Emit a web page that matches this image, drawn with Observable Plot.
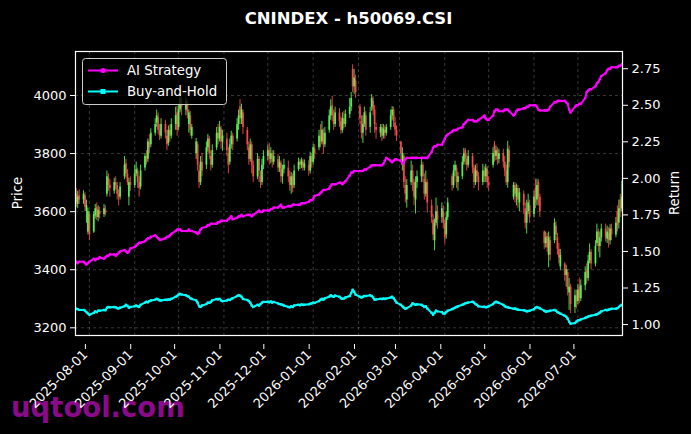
<!DOCTYPE html>
<html><head><meta charset="utf-8">
<script src="https://cdn.jsdelivr.net/npm/d3@7"></script>
<script src="https://cdn.jsdelivr.net/npm/@observablehq/plot@0.6"></script>
<style>
html,body{margin:0;padding:0;background:#000;}
#wrap{position:relative;width:691px;height:434px;overflow:hidden;font-family:"DejaVu Sans",sans-serif;background:#000;}
#wrap > svg{position:absolute;left:0;top:0;}
</style></head><body><div id="wrap"></div>
<script>
// ---- data (one trading week per line) ----
const openP = [
3660,3625,3655,
3640,3655,3600,3530,3590, 3530,3585,3615,3580,3600, 3590,3605,3660,3715,3690, 3670,3700,3690,3660,3650,
3720,3765,3730,3650,3700, 3690,3730,3740,3700,3685, 3750,3790,3780,3840,3830, 3870,3905,3925,3880,3860,
3900,3860,3835,3880,3860, 3900,3940,3890,3950,3985, 3950,3975,3900,3930,3860, 3800,3830,3740,3700,3770,
3760,3820,3850,3790,3760, 3820,3870,3850,3885,3840, 3850,3800,3770,3830,3860, 3850,3900,3960,3920,3940,
3880,3820,3780,3830,3760, 3720,3780,3720,3700,3760, 3790,3810,3780,3800,3770, 3780,3750,3765,3720,3745,
3750,3720,3690,3720,3690, 3745,3770,3760,3770,3750, 3760,3740,3790,3770,3815, 3820,3860,3840,3870,3830,
3880,3930,3965,3930,3900, 3940,3910,3880,3920,3900, 3935,3960,4090,4030,4050, 3960,3910,3870,3900,3930,
3890,3960,3980,3950,3890, 3870,3890,3860,3880,3870, 3890,3930,3950,3905,3880, 3840,3760,3790,3690,3640,
3700,3740,3700,3640,3700, 3720,3760,3710,3660,3700, 3620,3570,3500,3560,3600, 3580,3600,3560,3520,3580,
3720,3690,3740,3750,3700, 3720,3770,3810,3780,3760, 3790,3750,3700,3740,3720, 3700,3740,3720,3745,3700,
3760,3830,3790,3810,3780, 3800,3770,3740,3700,3810, 3650,3690,3650,3680,3630, 3660,3610,3560,3600,3620,
3590,3680,3640,3700,3650, 3530,3490,3515,3450,3500, 3500,3550,3510,3470,3410, 3420,3380,3390,3320,3340,
3270,3310,3290,3340,3300, 3345,3395,3370,3430,3460, 3420,3490,3530,3480,3510, 3540,3505,3525,3500,3540,
3520,3600,3560,3640,3610
];
const highP = [
3680,3670,3675,
3672,3665,3640,3612,3600, 3600,3625,3630,3620,3615, 3625,3620,3740,3730,3710, 3715,3720,3700,3675,3700,
3790,3780,3745,3715,3720, 3760,3770,3750,3720,3760, 3800,3810,3850,3865,3885, 3920,3950,3940,3900,3920,
3915,3880,3895,3900,3920, 3960,3962,3970,4005,3995, 3995,3985,3950,3945,3900, 3852,3840,3760,3790,3800,
3840,3866,3860,3810,3830, 3890,3900,3911,3895,3880, 3870,3820,3850,3877,3870, 3920,3950,3986,3970,3950,
3890,3840,3850,3840,3775, 3800,3790,3740,3780,3810, 3830,3835,3820,3810,3810, 3797,3790,3775,3760,3780,
3774,3740,3735,3730,3760, 3784,3780,3784,3780,3778, 3775,3805,3800,3832,3830, 3880,3900,3911,3885,3890,
3950,3985,3997,3950,3960, 3955,3925,3940,3945,3950, 3990,4010,4106,4090,4070, 3969,3930,3930,3960,3945,
3960,4003,3995,3965,3905, 3900,3900,3900,3895,3900, 3950,3962,3960,3925,3895, 3842,3820,3800,3720,3710,
3774,3760,3710,3720,3740, 3784,3770,3730,3740,3710, 3640,3590,3575,3647,3620, 3630,3620,3570,3600,3647,
3730,3760,3774,3760,3735, 3790,3818,3818,3795,3810, 3800,3760,3760,3765,3735, 3763,3755,3763,3755,3720,
3820,3842,3825,3820,3815, 3815,3790,3760,3842,3825, 3700,3700,3695,3690,3680, 3671,3630,3640,3660,3640,
3670,3712,3712,3710,3660, 3534,3530,3525,3530,3515, 3575,3565,3525,3490,3470, 3424,3415,3400,3370,3350,
3330,3330,3350,3372,3365, 3410,3420,3450,3489,3470, 3500,3557,3540,3530,3557, 3557,3550,3545,3555,3557,
3580,3620,3640,3660,3705
];
const lowP = [
3615,3610,3625,
3625,3600,3560,3520,3500, 3525,3575,3570,3565,3575, 3580,3585,3650,3670,3650, 3660,3675,3640,3620,3640,
3710,3715,3690,3620,3670, 3680,3720,3680,3650,3675, 3740,3760,3770,3800,3820, 3860,3890,3865,3845,3850,
3850,3810,3825,3840,3850, 3880,3860,3880,3940,3930, 3930,3920,3870,3860,3850, 3780,3740,3680,3690,3720,
3745,3805,3780,3740,3750, 3810,3830,3840,3815,3808, 3790,3730,3760,3815,3810, 3840,3880,3900,3900,3866,
3810,3760,3770,3730,3700, 3710,3700,3680,3690,3745, 3775,3760,3765,3750,3760, 3735,3735,3700,3695,3730,
3700,3670,3660,3665,3680, 3739,3745,3748,3740,3740, 3722,3730,3750,3760,3780, 3810,3820,3830,3797,3820,
3870,3915,3910,3880,3890, 3890,3866,3870,3885,3890, 3921,3945,4010,4003,3990, 3900,3850,3835,3890,3860,
3870,3945,3930,3870,3849, 3855,3842,3850,3850,3860, 3880,3915,3890,3860,3842, 3770,3740,3680,3630,3612,
3690,3670,3620,3592,3680, 3700,3700,3640,3650,3595, 3560,3500,3465,3550,3540, 3560,3540,3489,3505,3570,
3671,3680,3720,3680,3671, 3710,3760,3760,3740,3750, 3730,3680,3690,3700,3671, 3690,3700,3700,3680,3671,
3750,3770,3775,3760,3765, 3750,3720,3690,3681,3750, 3640,3630,3620,3612,3600, 3590,3540,3523,3590,3560,
3578,3610,3620,3620,3580, 3470,3475,3460,3407,3430, 3490,3500,3450,3420,3396, 3360,3340,3310,3260,3249,
3249,3265,3280,3283,3290, 3328,3350,3360,3420,3400, 3410,3480,3460,3441,3495, 3495,3490,3475,3485,3500,
3510,3530,3540,3580,3600
];
const closeP = [
3630,3650,3640,
3660,3615,3620,3600,3520, 3590,3610,3580,3605,3590, 3610,3595,3720,3690,3680, 3700,3690,3660,3650,3685,
3760,3730,3700,3700,3690, 3730,3745,3700,3680,3740, 3790,3770,3840,3820,3870, 3900,3930,3880,3860,3900,
3870,3830,3880,3860,3900, 3930,3880,3950,3990,3960, 3980,3940,3940,3880,3890, 3840,3760,3700,3770,3740,
3820,3850,3800,3760,3810, 3870,3850,3890,3840,3860, 3810,3760,3830,3860,3830, 3900,3930,3920,3950,3890,
3830,3780,3830,3760,3720, 3780,3740,3700,3760,3790, 3810,3780,3800,3770,3790, 3750,3770,3720,3745,3760,
3720,3690,3720,3680,3740, 3770,3760,3775,3750,3765, 3740,3790,3770,3820,3800, 3860,3840,3880,3830,3870,
3930,3960,3930,3900,3940, 3910,3880,3920,3900,3935, 3960,3990,4030,4060,4010, 3920,3870,3900,3940,3880,
3940,3990,3950,3900,3880, 3890,3860,3885,3870,3890, 3930,3950,3910,3880,3860, 3800,3800,3700,3660,3690,
3740,3700,3650,3700,3720, 3760,3720,3660,3700,3630, 3580,3520,3560,3600,3570, 3610,3560,3510,3580,3630,
3690,3740,3760,3700,3720, 3770,3800,3780,3760,3790, 3750,3700,3740,3720,3700, 3740,3720,3750,3700,3690,
3800,3790,3810,3780,3800, 3770,3740,3700,3815,3770, 3690,3660,3680,3640,3665, 3620,3560,3600,3630,3580,
3650,3630,3690,3650,3600, 3490,3510,3475,3510,3450, 3560,3520,3470,3440,3450, 3380,3400,3330,3340,3280,
3310,3290,3330,3300,3345, 3390,3370,3430,3460,3420, 3480,3530,3480,3510,3540, 3510,3530,3500,3540,3520,
3560,3550,3610,3600,3650
];
const aiStrategy = [
1.43,1.42,1.43,
1.43,1.42,1.41,1.42,1.43, 1.45,1.44,1.45,1.45,1.46, 1.45,1.46,1.47,1.47,1.48, 1.48,1.47,1.48,1.49,1.50,
1.51,1.50,1.49,1.50,1.52, 1.53,1.54,1.55,1.56,1.56, 1.57,1.58,1.59,1.59,1.60, 1.61,1.60,1.59,1.58,1.58,
1.59,1.60,1.60,1.61,1.62, 1.64,1.65,1.65,1.65,1.64, 1.64,1.64,1.65,1.64,1.64, 1.63,1.62,1.63,1.65,1.66,
1.67,1.68,1.68,1.69,1.69, 1.69,1.70,1.70,1.71,1.71, 1.71,1.72,1.73,1.74,1.72, 1.73,1.74,1.74,1.75,1.74,
1.75,1.75,1.75,1.74,1.75, 1.77,1.78,1.77,1.77,1.78, 1.78,1.78,1.79,1.79,1.80, 1.80,1.81,1.82,1.80,1.80,
1.81,1.81,1.81,1.82,1.82, 1.82,1.82,1.83,1.83,1.83, 1.84,1.85,1.85,1.86,1.88, 1.89,1.90,1.91,1.92,1.92,
1.93,1.95,1.96,1.96,1.96, 1.97,1.97,1.96,1.97,1.98, 2.02,2.04,2.04,2.05,2.05, 2.05,2.05,2.05,2.06,2.06,
2.08,2.09,2.09,2.09,2.09, 2.09,2.09,2.10,2.12,2.14, 2.12,2.11,2.12,2.13,2.13, 2.12,2.10,2.11,2.13,2.14,
2.14,2.14,2.14,2.14,2.14, 2.14,2.14,2.14,2.14,2.14, 2.18,2.21,2.22,2.22,2.23, 2.23,2.25,2.27,2.29,2.30,
2.32,2.33,2.33,2.33,2.34, 2.35,2.37,2.38,2.39,2.40, 2.40,2.39,2.39,2.39,2.40, 2.42,2.43,2.41,2.40,2.40,
2.43,2.46,2.47,2.47,2.46, 2.46,2.47,2.47,2.47,2.46, 2.43,2.44,2.46,2.47,2.47, 2.48,2.48,2.49,2.49,2.50,
2.50,2.50,2.49,2.47,2.465, 2.465,2.465,2.465,2.47,2.49, 2.52,2.52,2.53,2.53,2.53, 2.53,2.52,2.51,2.47,2.45,
2.49,2.50,2.50,2.51,2.51, 2.55,2.59,2.60,2.61,2.61, 2.63,2.65,2.66,2.68,2.70, 2.72,2.74,2.75,2.75,2.76,
2.76,2.76,2.77,2.77,2.78
];
const buyAndHold = [
1.108,1.105,1.100,
1.100,1.095,1.085,1.075,1.067, 1.080,1.090,1.085,1.095,1.095, 1.100,1.098,1.115,1.120,1.118, 1.120,1.118,1.112,1.110,1.115,
1.125,1.135,1.128,1.115,1.120, 1.125,1.130,1.125,1.120,1.135, 1.150,1.156,1.152,1.160,1.165, 1.170,1.176,1.172,1.165,1.165,
1.170,1.168,1.172,1.170,1.176, 1.190,1.195,1.205,1.210,1.205, 1.200,1.195,1.190,1.180,1.175, 1.165,1.150,1.125,1.120,1.130,
1.140,1.150,1.148,1.155,1.165, 1.175,1.172,1.176,1.165,1.160, 1.165,1.170,1.168,1.175,1.180, 1.195,1.200,1.198,1.190,1.175,
1.168,1.160,1.150,1.130,1.120, 1.135,1.130,1.140,1.150,1.155, 1.156,1.152,1.158,1.150,1.155, 1.145,1.140,1.138,1.135,1.130,
1.120,1.118,1.125,1.120,1.130, 1.135,1.132,1.138,1.134,1.136, 1.138,1.142,1.145,1.150,1.148, 1.160,1.170,1.176,1.170,1.180,
1.190,1.200,1.195,1.190,1.198, 1.190,1.180,1.176,1.178,1.185, 1.195,1.215,1.238,1.225,1.205, 1.190,1.185,1.190,1.195,1.195,
1.200,1.195,1.185,1.170,1.172, 1.176,1.174,1.178,1.175,1.178, 1.185,1.190,1.180,1.165,1.150, 1.135,1.125,1.115,1.108,1.112,
1.130,1.145,1.140,1.135,1.138, 1.135,1.128,1.120,1.125,1.110, 1.080,1.067,1.080,1.095,1.090, 1.085,1.075,1.075,1.085,1.095,
1.105,1.110,1.115,1.120,1.125, 1.135,1.140,1.145,1.148,1.150, 1.156,1.150,1.140,1.135,1.125, 1.120,1.122,1.118,1.120,1.125,
1.140,1.150,1.156,1.152,1.148, 1.135,1.125,1.120,1.118,1.115, 1.108,1.110,1.105,1.102,1.100, 1.098,1.095,1.090,1.092,1.095,
1.105,1.115,1.120,1.115,1.110, 1.095,1.088,1.090,1.092,1.095, 1.100,1.095,1.085,1.080,1.075, 1.060,1.054,1.040,1.020,1.006,
1.010,1.020,1.028,1.030,1.035, 1.045,1.050,1.054,1.058,1.060, 1.067,1.070,1.075,1.082,1.090, 1.100,1.098,1.102,1.105,1.108,
1.108,1.112,1.120,1.128,1.135
];
const xTickLabels = ["2025-08-01","2025-09-01","2025-10-01","2025-11-01","2025-12-01","2026-01-01",
  "2026-02-01","2026-03-01","2026-04-01","2026-05-01","2026-06-01","2026-07-01"];
const priceTicks = [3200, 3400, 3600, 3800, 4000];
const returnTicks = [1.00, 1.25, 1.50, 1.75, 2.00, 2.25, 2.50, 2.75];
const titleText = "CNINDEX - h50069.CSI";
const seriesNames = ["AI Strategy", "Buy-and-Hold"];

// ---- build ----
const dates = d3.utcDays(new Date(Date.UTC(2025, 6, 23)), new Date(Date.UTC(2026, 7, 1)))
  .filter(d => d.getUTCDay() !== 0 && d.getUTCDay() !== 6);
const n = Math.min(dates.length, openP.length, highP.length, lowP.length, closeP.length, aiStrategy.length, buyAndHold.length);
if (n !== dates.length) console.error("length mismatch", dates.length, openP.length, highP.length, lowP.length, closeP.length, aiStrategy.length, buyAndHold.length);

const priceDomain = [3173.5, 4151.5];
const retDomain = [0.925, 2.868];
const k = (priceDomain[1] - priceDomain[0]) / (retDomain[1] - retDomain[0]);
const toPrice = r => priceDomain[0] + (r - retDomain[0]) * k;
const fromPrice = p => retDomain[0] + (p - priceDomain[0]) / k;

const candles = d3.range(n).map(i => ({date: dates[i], open: openP[i], high: highP[i], low: lowP[i], close: closeP[i]}));
const up = candles.filter(d => d.close >= d.open);
const down = candles.filter(d => d.close < d.open);
const ai = d3.range(n).map(i => ({date: dates[i], v: toPrice(aiStrategy[i])}));
const bh = d3.range(n).map(i => ({date: dates[i], v: toPrice(buyAndHold[i])}));
const xTicks = xTickLabels.map(s => new Date(s + "T00:00Z"));

const GREEN = "#55ff55", RED = "#ff4d4d", MAG = "#ff00ff", CYAN = "#00ffff";
const gridStyle = {stroke: "#9a9a9a", strokeOpacity: 0.45, strokeDasharray: "3,3", strokeWidth: 0.8};

const chart = Plot.plot({
  width: 691, height: 434,
  marginLeft: 75, marginRight: 69, marginTop: 51, marginBottom: 99,
  style: {background: "transparent", color: "white", fontFamily: "'DejaVu Sans', sans-serif", fontSize: "13px"},
  x: {type: "utc", domain: [new Date("2025-07-22T12:00Z"), new Date("2026-07-31T12:00Z")]},
  y: {domain: priceDomain},
  marks: [
    Plot.gridX(xTicks, gridStyle),
    Plot.gridY(priceTicks, gridStyle),
    Plot.ruleX(down, {x: "date", y1: "low", y2: "high", stroke: RED, strokeWidth: 1, strokeOpacity: 0.85}),
    Plot.ruleX(up, {x: "date", y1: "low", y2: "high", stroke: GREEN, strokeWidth: 1, strokeOpacity: 0.85}),
    Plot.ruleX(down, {x: "date", y1: "open", y2: "close", stroke: RED, strokeWidth: 1.8, strokeOpacity: 0.85}),
    Plot.ruleX(up, {x: "date", y1: "open", y2: "close", stroke: GREEN, strokeWidth: 1.8, strokeOpacity: 0.85}),
    Plot.line(ai, {x: "date", y: "v", stroke: MAG, strokeWidth: 2}),
    Plot.dot(ai, {x: "date", y: "v", r: 1.3, fill: MAG}),
    Plot.line(bh, {x: "date", y: "v", stroke: CYAN, strokeWidth: 2}),
    Plot.dot(bh, {x: "date", y: "v", r: 1.3, fill: CYAN, symbol: "square"}),
    Plot.frame({stroke: "white", strokeWidth: 1.2}),
    Plot.axisX(xTicks, {anchor: "bottom", tickFormat: d3.utcFormat("%Y-%m-%d"), tickRotate: -45, tickSize: 5, tickPadding: 3, label: null, fontSize: 13, dx: -4, dy: 9}),
    Plot.axisY(priceTicks, {anchor: "left", tickSize: 5, tickPadding: 4, label: null, tickFormat: d => String(d), fontSize: 13}),
    Plot.axisY(returnTicks.map(toPrice), {anchor: "right", tickSize: 5, tickPadding: 4, label: null, tickFormat: d => fromPrice(d).toFixed(2), fontSize: 13})
  ]
});

const wrap = document.getElementById("wrap");
const NS = "http://www.w3.org/2000/svg";
function svgEl(tag, attrs, text) {
  const e = document.createElementNS(NS, tag);
  for (const a in attrs) e.setAttribute(a, attrs[a]);
  if (text != null) e.textContent = text;
  return e;
}
// watermark underneath
const under = svgEl("svg", {width: 691, height: 434});
under.appendChild(svgEl("text", {x: 11, y: 417, "font-size": 27.5, "font-weight": "bold", fill: "#8a0a8a", "font-family": "DejaVu Sans"}, "uqtool.com"));
wrap.appendChild(under);
wrap.appendChild(chart);
// overlay: title, axis labels, legend
const over = svgEl("svg", {width: 691, height: 434, "font-family": "DejaVu Sans"});
over.appendChild(svgEl("text", {x: 348.5, y: 24, "text-anchor": "middle", "font-size": 16.5, "font-weight": "bold", fill: "white"}, titleText));
over.appendChild(svgEl("text", {transform: "translate(22,193) rotate(-90)", "text-anchor": "middle", "font-size": 13.3, fill: "white"}, "Price"));
over.appendChild(svgEl("text", {transform: "translate(679,193) rotate(-90)", "text-anchor": "middle", "font-size": 13.3, fill: "white"}, "Return"));
over.appendChild(svgEl("rect", {x: 82.5, y: 58.5, width: 144, height: 46, rx: 3, fill: "black", "fill-opacity": 0.8, stroke: "#cccccc", "stroke-width": 1}));
over.appendChild(svgEl("line", {x1: 88, x2: 118, y1: 70.5, y2: 70.5, stroke: MAG, "stroke-width": 2}));
over.appendChild(svgEl("circle", {cx: 103, cy: 70.5, r: 2.6, fill: MAG}));
over.appendChild(svgEl("text", {x: 127, y: 75, "font-size": 13.3, fill: "white"}, seriesNames[0]));
over.appendChild(svgEl("line", {x1: 88, x2: 118, y1: 91.5, y2: 91.5, stroke: CYAN, "stroke-width": 2}));
over.appendChild(svgEl("rect", {x: 100.5, y: 89, width: 5, height: 5, fill: CYAN}));
over.appendChild(svgEl("text", {x: 127, y: 96, "font-size": 13.3, fill: "white"}, seriesNames[1]));
wrap.appendChild(over);
</script></body></html>
